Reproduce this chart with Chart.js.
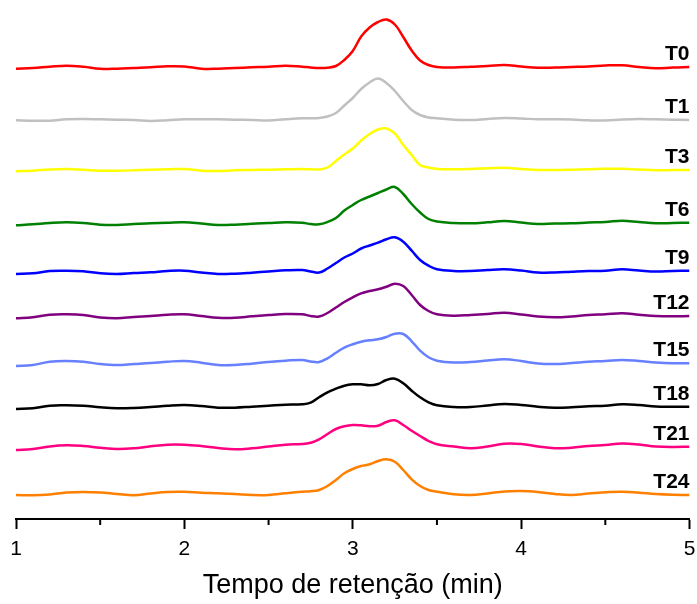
<!DOCTYPE html>
<html>
<head>
<meta charset="utf-8">
<title>Cromatogramas</title>
<script src="https://cdn.jsdelivr.net/npm/chart.js@4"></script>
<style>
  body { margin: 0; background: #fff; }
</style>
</head>
<body>
<canvas id="chart" width="697" height="604"></canvas>
<script>
// retention time (min), shared by every run
const times = [1.0, 1.1, 1.2, 1.3, 1.4, 1.5, 1.6, 1.7, 1.8, 1.9, 2.0, 2.1, 2.2, 2.3, 2.4, 2.5, 2.6, 2.7,
  2.75, 2.8, 2.85, 2.9, 2.95, 3.0, 3.05, 3.1, 3.15, 3.2, 3.25, 3.3, 3.35, 3.4, 3.45, 3.5,
  3.6, 3.7, 3.8, 3.9, 4.0, 4.1, 4.2, 4.3, 4.4, 4.5, 4.6, 4.7, 4.8, 4.9, 5.0];

const runLabels = ['T0', 'T1', 'T3', 'T6', 'T9', 'T12', 'T15', 'T18', 'T21', 'T24'];

// detector signal, already stacked (a.u.)
const t0 = [449.3, 450, 451.3, 452.3, 451.3, 449.3, 449.3, 450, 450.7, 451.7, 451.5, 449.3, 449.3, 450, 450.7, 451.3, 452.3, 451.3,
  450.5, 450, 450.3, 452, 458, 467, 481.5, 490.5, 496, 498.5, 493.5, 481, 467.5, 457.5, 453, 451,
  450.5, 451.3, 452, 453, 451.5, 450.3, 450.5, 451, 451.5, 452.5, 452.7, 451, 449.7, 450.5, 451];
const t1 = [397.7, 397.3, 397.3, 398.7, 399, 398.7, 398.3, 398, 397, 397.7, 398.7, 398.7, 398.7, 398.3, 398, 397.5, 398.7, 399.7,
  399.7, 400, 401.5, 405, 412.5, 420, 429, 435.5, 439.5, 435, 427, 417, 408, 403, 400.5, 399.7,
  398.3, 398, 399, 400, 399.5, 398.7, 398.7, 398.5, 397.7, 397.5, 398.5, 399, 398.7, 398.3, 398];
const t3 = [346.7, 347.3, 348.5, 349, 348.3, 347.3, 347.3, 347.7, 348.3, 348.7, 349, 347.3, 347, 347.7, 348, 348.3, 348.7, 349,
  348.7, 348.5, 350.5, 357, 363.5, 369.5, 377.5, 384, 388.5, 389.5, 384.5, 373, 363, 353, 350.5, 349,
  348.7, 349, 349.7, 350.3, 349, 348, 348, 348.3, 348.7, 349.2, 349.3, 348.5, 347.7, 348, 348];
const t6 = [292.7, 293.7, 295, 295.7, 295, 293.3, 293, 294, 294.7, 295.3, 295.7, 294.5, 293, 293.3, 294.3, 295, 295.7, 295.3,
  294, 293.7, 296, 300, 307.5, 313, 318, 321.5, 325, 328.5, 331, 324, 314, 305.5, 299, 296.5,
  295, 294.7, 295.7, 297, 295.5, 294, 294.5, 294.7, 295.5, 296, 297.3, 296, 294.7, 295, 295.3];
const t9 = [244, 244.7, 247, 247.3, 246.7, 244.7, 244, 245, 245.7, 247, 247.3, 245.5, 244, 244.3, 245.3, 246.5, 247.7, 248,
  246.5, 245.5, 249.5, 255, 260.5, 264.5, 269.5, 272.5, 275.3, 278.7, 280.7, 276.3, 267.3, 258, 252.3, 248.7,
  247, 247, 248, 248.7, 247.5, 245.5, 245.5, 246.3, 247, 247.3, 248.7, 247.5, 246.5, 247, 247.3];
const t12 = [199.7, 200.7, 203.3, 203.7, 203, 200.5, 199.7, 201, 202, 203.3, 203.7, 202, 200.3, 200.3, 201.7, 203, 204, 203.7,
  202, 201.5, 205, 210.5, 216, 220.7, 224.7, 227, 228.7, 231.3, 234.3, 232, 223, 213, 207, 203.7,
  202.3, 203, 204, 205.3, 203.5, 201.5, 200.7, 201.5, 203, 203.7, 204.7, 203.3, 202, 201.7, 202];
const t15 = [152, 153, 156.3, 157, 156.3, 154, 153, 154, 155, 156.3, 157, 155.3, 153, 153, 154.3, 156, 157.3, 158,
  156.5, 156, 159.7, 165.3, 170.3, 173.7, 176.3, 177.7, 178.7, 181, 184.3, 184, 176.7, 167.3, 160.7, 157.3,
  155.5, 156, 157.5, 158.7, 157, 154.5, 154, 155, 156.3, 157, 158, 157, 155.5, 154.7, 154.7];
const t18 = [109, 109.7, 112.3, 112.7, 112.3, 110.7, 109.7, 110, 111, 112.3, 113, 112, 110.3, 110.3, 111.3, 112.3, 113.3, 113.7,
  115.3, 120.7, 125.7, 129.3, 132.3, 133.7, 133.7, 132.7, 134, 138, 139.3, 134.7, 127.3, 120.7, 115.7, 112.7,
  111, 111, 112.5, 114, 113, 111.3, 110.3, 110.7, 111.7, 112.3, 113.7, 113, 111.5, 111.3, 111.3];
const t21 = [68, 69, 71.5, 72.7, 72, 70.3, 69, 69.7, 71.7, 73.3, 73.3, 72, 70, 68.7, 69.7, 71.5, 73.3, 74,
  75.3, 78.7, 84, 89, 91.7, 93, 92.7, 91.7, 92.3, 96, 97.7, 93, 87.3, 82, 77, 73.7,
  71.5, 69.7, 71.5, 74.3, 74, 71.5, 69.7, 70.3, 72, 73, 74.5, 73.5, 71.5, 71, 71.3];
const t24 = [23, 22.7, 23.5, 25.5, 26, 25.5, 24, 22.7, 24.5, 26, 26.2, 25.3, 24.7, 24, 23, 23, 24.7, 26.2,
  26.7, 28, 32, 38, 44.7, 49, 52, 53.7, 57, 58.7, 56.3, 48, 38.7, 32, 28, 26.3,
  23.7, 23, 24.5, 26.5, 27, 26, 24, 23, 24.5, 25.7, 26.3, 25.3, 24, 23.3, 23];

const series = [t0, t1, t3, t6, t9, t12, t15, t18, t21, t24];
const minorTicks = [1.5, 2.5, 3.5, 4.5];

const colors = ['#ff0000', '#c0c0c0', '#ffff00', '#008000', '#0000ff',
  '#800080', '#6680ff', '#000000', '#ff0080', '#ff8000'];

const fontFamily = '"Liberation Sans", Arial, sans-serif';

// run names at the right end of each trace + the small half-minute ticks
const traceLabels = {
  id: 'traceLabels',
  afterDatasetsDraw(chart) {
    const ctx = chart.ctx;
    const area = chart.chartArea;
    ctx.save();
    ctx.font = 'bold 21px ' + fontFamily;
    ctx.fillStyle = '#000';
    ctx.textAlign = 'right';
    ctx.textBaseline = 'alphabetic';
    chart.data.datasets.forEach((ds, i) => {
      const pts = chart.getDatasetMeta(i).data;
      const last = pts[pts.length - 1];
      ctx.fillText(ds.label, area.right, last.y - 7);
    });

    const xs = chart.scales.x;
    ctx.strokeStyle = '#000';
    ctx.lineWidth = 2;
    minorTicks.forEach(v => {
      const px = xs.getPixelForValue(v);
      ctx.beginPath();
      ctx.moveTo(px, area.bottom);
      ctx.lineTo(px, area.bottom + 6);
      ctx.stroke();
    });
    ctx.restore();
  }
};

const ctx = document.getElementById('chart').getContext('2d');
const chart = new Chart(ctx, {
  type: 'line',
  data: {
    datasets: series.map((vals, i) => ({
      label: runLabels[i],
      data: vals.map((y, j) => ({ x: times[j], y: y })),
      borderColor: colors[i],
      borderWidth: 2.5,
      pointRadius: 0,
      fill: false,
      tension: 0.4
    }))
  },
  options: {
    responsive: false,
    animation: false,
    layout: { padding: { left: 16, right: 7.5, top: 10, bottom: 0 } },
    plugins: {
      legend: { display: false },
      tooltip: { enabled: false }
    },
    scales: {
      x: {
        type: 'linear',
        min: 1,
        max: 5,
        ticks: {
          stepSize: 1,
          color: '#000',
          padding: 8,
          font: { family: fontFamily, size: 21 }
        },
        grid: {
          drawOnChartArea: false,
          drawTicks: true,
          tickLength: 10,
          tickWidth: 2,
          tickColor: '#000'
        },
        border: { color: '#000', width: 2 },
        title: {
          display: true,
          text: 'Tempo de retenção (min)',
          color: '#000',
          font: { family: fontFamily, size: 27, lineHeight: 1 },
          padding: { top: 0, bottom: 5 }
        },
        afterFit(scale) {
          scale.height = 85;
          // edge labels fit inside the layout padding already
          scale.paddingLeft = 0;
          scale.paddingRight = 0;
        }
      },
      y: { display: false, min: -1, max: 508 }
    }
  },
  plugins: [traceLabels]
});
</script>
</body>
</html>
